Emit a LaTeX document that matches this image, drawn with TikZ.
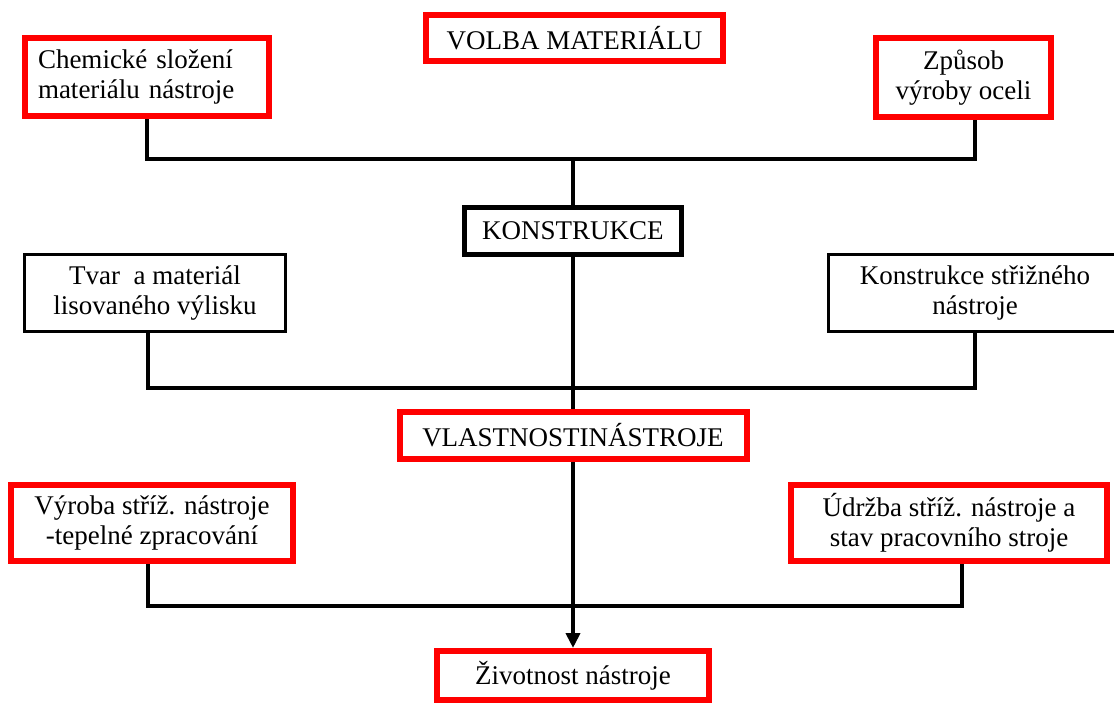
\documentclass[tikz,border=0pt]{standalone}
\usepackage{fontspec}
\setmainfont{Liberation Serif}
\usepackage{tikz}
\usetikzlibrary{arrows.meta}
\definecolor{boxred}{HTML}{FF0000}

\begin{document}
\begin{tikzpicture}[x=1pt, y=-1pt,
  rbox/.style={draw=boxred, line width=6pt, fill=white, inner sep=2pt, align=center, font=\fontsize{27}{30}\selectfont},
  kbox/.style={draw=black, line width=5pt, fill=white, inner sep=2pt, align=center, font=\fontsize{27}{30}\selectfont},
  tbox/.style={draw=black, line width=3pt, fill=white, inner sep=2pt, align=center, font=\fontsize{27}{30}\selectfont},
  link/.style={black, line width=4pt},
]
\useasboundingbox (0,0) rectangle (1114,704);

% volba materialu
\node[rbox, minimum width=297pt, minimum height=46pt] (volba) at (574.5,38) {VOLBA MATERIÁLU};
\node[rbox, align=left, minimum width=244pt, minimum height=78pt, text width=218pt] (chem) at (147,77) {Chemické složení\\materiálu nástroje};
\node[rbox, minimum width=175pt, minimum height=79pt] (zpusob) at (963.5,77.5) {Způsob\\výroby oceli};
\coordinate (j1) at (573,159);
\draw[link] (chem.south) |- (j1) -| ([xshift=11.5pt]zpusob.south);

% konstrukce
\node[kbox, minimum width=217pt, minimum height=47pt] (konstr) at (573,231) {KONSTRUKCE};
\draw[link] (j1) -- (konstr.north);
\node[tbox, minimum width=261pt, minimum height=77pt] (tvar) at (155,293) {Tvar~ a materiál\\lisovaného výlisku};
\node[tbox, minimum width=293pt, minimum height=77pt] (kstriz) at (975,293) {Konstrukce střižného\\nástroje};
\coordinate (j2) at (573,388);
\draw[link] ([xshift=-7pt]tvar.south) |- (j2) -| (kstriz.south);

% vlastnosti nastroje
\node[rbox, minimum width=347pt, minimum height=47pt] (vlast) at (573,435.5) {VLASTNOSTINÁSTROJE};
\draw[link] (konstr.south) -- (vlast.north);
\node[rbox, minimum width=282pt, minimum height=76pt] (vyroba) at (152,523) {Výroba stříž. nástroje\\-tepelné zpracování};
\node[rbox, minimum width=316pt, minimum height=76pt] (udrzba) at (949,523) {Údržba stříž. nástroje a\\stav pracovního stroje};
\coordinate (j3) at (573,606);
\draw[link] ([xshift=-4pt]vyroba.south) |- (j3) -| ([xshift=13pt]udrzba.south);

% zivotnost
\node[rbox, minimum width=272pt, minimum height=49pt] (ziv) at (573,675.5) {Životnost nástroje};
\draw[link, -{Triangle[width=14pt,length=15pt]}] (vlast.south) -- (ziv.north);
\end{tikzpicture}
\end{document}
